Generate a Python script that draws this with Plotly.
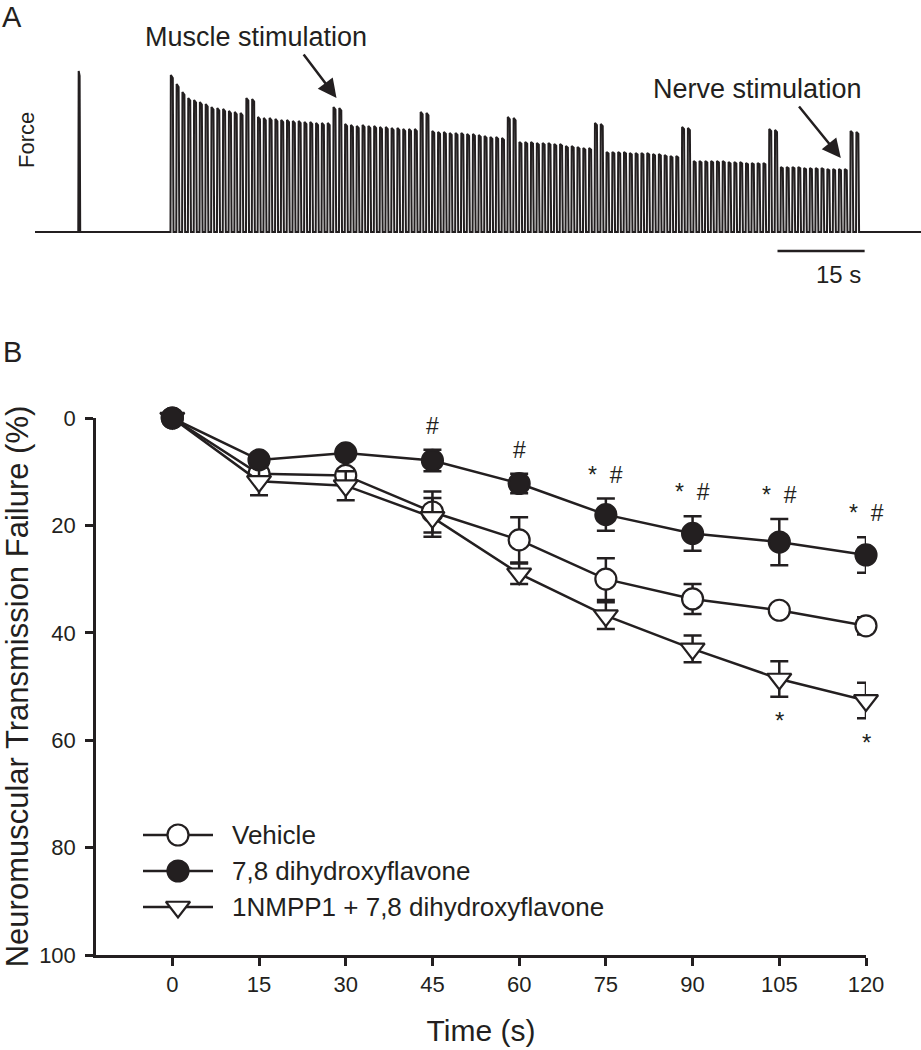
import plotly.graph_objects as go

W, H = 921, 1050
INK = "#231f20"
FONT = "Liberation Sans, Arial, Helvetica, sans-serif"

# ---------------- Panel B data ----------------
time_s = [0, 15, 30, 45, 60, 75, 90, 105, 120]
vehicle_mean = [0, 10.4, 10.7, 17.5, 22.7, 30.0, 33.7, 35.8, 38.7]
vehicle_sem = [0.4, 1.0, 1.2, 3.8, 4.2, 3.9, 2.8, 1.0, 1.6]
dhf_mean = [0, 7.8, 6.5, 7.9, 12.2, 18.0, 21.5, 23.1, 25.5]
dhf_sem = [0.4, 1.0, 1.0, 2.0, 1.8, 3.0, 3.2, 4.3, 3.3]
nmpp_mean = [0, 11.8, 12.6, 18.5, 29.0, 36.8, 43.0, 48.6, 52.6]
nmpp_sem = [0.4, 2.6, 2.7, 3.6, 1.9, 2.5, 2.5, 3.3, 3.3]
series_names = ["Vehicle", "7,8 dihydroxyflavone", "1NMPP1 + 7,8 dihydroxyflavone"]
hash_times = [45, 60, 75, 90, 105, 120]          # '#' above 7,8-DHF
star_dhf_times = [75, 90, 105, 120]              # '*' above 7,8-DHF
star_nmpp_times = [105, 120]                     # '*' below 1NMPP1
x_ticks = [0, 15, 30, 45, 60, 75, 90, 105, 120]
y_ticks = [0, 20, 40, 60, 80, 100]

# ---------------- Panel A data (force trace, arbitrary units) ----------------
twitch_time = -16.0
twitch_amp = 161
nerve_amp_segments = [
    [157, 148, 140, 134, 132, 130, 128, 125, 124, 123, 121, 120, 119],
    [115, 114, 114, 113, 112, 112, 111, 111, 110, 110, 109, 109, 109],
    [108, 107, 106, 107, 106, 106, 105, 105, 104, 104, 103, 103, 103],
    [101, 100, 100, 99, 99, 99, 98, 98, 97, 96, 95, 95, 94],
    [90, 90, 90, 89, 89, 89, 88, 88, 86, 86, 85, 84, 84],
    [80, 80, 80, 80, 79, 79, 79, 79, 78, 78, 77, 76, 76],
    [71, 71, 71, 71, 71, 71, 70, 70, 70, 69, 69, 69, 69],
    [65, 65, 65, 65, 64, 64, 64, 64, 63, 63, 63, 63],
]
muscle_amp_pairs = [
    [134, 133], [125, 124], [120, 119], [115, 114],
    [109, 108], [105, 104], [103, 102], [101, 100],
]
scale_bar_s = 15

# ---------------- geometry helpers ----------------
def px(x):
    return x / W

def py(y):
    return 1 - y / H

A_T0, A_T1 = -23.6, 128.9
A_Y0, A_Y1 = -58, 192

fig = go.Figure()

# ---- Panel A trace ----
amps = []
for seg, pair in zip(nerve_amp_segments, muscle_amp_pairs):
    amps += seg + pair
xs = [A_T0, twitch_time - 0.15, twitch_time - 0.08, twitch_time + 0.08, twitch_time + 0.18, -0.3]
ys = [0, 0, twitch_amp, twitch_amp * 0.97, 0, 0]
for i, a in enumerate(amps):
    t = float(i)
    xs += [t - 0.28, t - 0.22, t + 0.12, t + 0.24, t + 0.7]
    ys += [0, a, a * 0.98, 0, 0]
xs += [A_T1]
ys += [0]
fig.add_trace(go.Scatter(x=xs, y=ys, mode="lines", line=dict(color=INK, width=2.0),
                         xaxis="x2", yaxis="y2", showlegend=False, hoverinfo="skip"))

# ---- Panel B traces ----
styles = [
    dict(symbol="circle", color="white"),
    dict(symbol="triangle-down", color="white"),
    dict(symbol="circle", color=INK),
]
order = [(vehicle_mean, vehicle_sem, 0, styles[0]),
         (nmpp_mean, nmpp_sem, 2, styles[1]),
         (dhf_mean, dhf_sem, 1, styles[2])]
for mean, sem, ni, st in order:
    fig.add_trace(go.Scatter(
        x=time_s, y=mean, name=series_names[ni], mode="lines+markers",
        line=dict(color=INK, width=2.5),
        marker=dict(symbol=st["symbol"], size=21, color=st["color"],
                    line=dict(color=INK, width=2.2)),
        error_y=dict(type="data", array=sem, visible=True, color=INK, thickness=2.5, width=9),
        cliponaxis=False, showlegend=False, xaxis="x", yaxis="y"))

# ---- custom legend (overlay pixel-space axes) ----
legend_rows = [835, 871, 907]
legend_styles = [styles[0], styles[2], styles[1]]
for name, ry, st in zip(series_names, legend_rows, legend_styles):
    fig.add_trace(go.Scatter(x=[143, 213], y=[ry, ry], mode="lines", line=dict(color=INK, width=2.5),
                             xaxis="x3", yaxis="y3", showlegend=False, hoverinfo="skip"))
    fig.add_trace(go.Scatter(x=[178], y=[ry], mode="markers",
                             marker=dict(symbol=st["symbol"], size=21, color=st["color"],
                                         line=dict(color=INK, width=2.2)),
                             xaxis="x3", yaxis="y3", showlegend=False, hoverinfo="skip"))

annotations = []
for name, ry in zip(series_names, legend_rows):
    annotations.append(dict(x=px(230), y=py(ry), xref="paper", yref="paper", text=name,
                            showarrow=False, xanchor="left", yanchor="middle",
                            font=dict(size=26, color=INK, family=FONT)))

# significance marks
for t in hash_times:
    i = time_s.index(t)
    txt = "* &nbsp;#" if t in star_dhf_times else "#"
    annotations.append(dict(x=t, y=dhf_mean[i] - dhf_sem[i], xref="x", yref="y", text=txt,
                            showarrow=False, xanchor="center", yanchor="middle", yshift=24,
                            font=dict(size=23, color=INK, family=FONT)))
for t in star_nmpp_times:
    i = time_s.index(t)
    annotations.append(dict(x=t, y=nmpp_mean[i] + nmpp_sem[i], xref="x", yref="y", text="*",
                            showarrow=False, xanchor="center", yanchor="middle", yshift=-24,
                            font=dict(size=24, color=INK, family=FONT)))

# panel labels
annotations.append(dict(x=px(12), y=py(17), xref="paper", yref="paper", text="A", showarrow=False,
                        xanchor="center", yanchor="middle", font=dict(size=29, color=INK, family=FONT)))
annotations.append(dict(x=px(12), y=py(352), xref="paper", yref="paper", text="B", showarrow=False,
                        xanchor="center", yanchor="middle", font=dict(size=29, color=INK, family=FONT)))

# panel A labels and arrows
annotations.append(dict(x=px(27), y=py(140), xref="paper", yref="paper", text="Force", showarrow=False,
                        xanchor="center", yanchor="middle", textangle=-90,
                        font=dict(size=22, color=INK, family=FONT)))
annotations.append(dict(x=px(256), y=py(37), xref="paper", yref="paper", text="Muscle stimulation",
                        showarrow=False, xanchor="center", yanchor="middle",
                        font=dict(size=27, color=INK, family=FONT)))
annotations.append(dict(x=px(757), y=py(89), xref="paper", yref="paper", text="Nerve stimulation",
                        showarrow=False, xanchor="center", yanchor="middle",
                        font=dict(size=27, color=INK, family=FONT)))
annotations.append(dict(x=28.3, y=134, xref="x2", yref="y2", text="", showarrow=True,
                        ax=-34, ay=-45, arrowhead=2, arrowsize=1.5, arrowwidth=2.5, arrowcolor=INK,
                        standoff=0))
annotations.append(dict(x=115.1, y=74, xref="x2", yref="y2", text="", showarrow=True,
                        ax=-43, ay=-53, arrowhead=2, arrowsize=1.5, arrowwidth=2.5, arrowcolor=INK,
                        standoff=0))
bar_end = 119.2
annotations.append(dict(x=bar_end - scale_bar_s / 2 + 3.0, y=-42, xref="x2", yref="y2",
                        text=f"{scale_bar_s} s", showarrow=False, xanchor="center", yanchor="middle",
                        font=dict(size=24, color=INK, family=FONT)))

shapes = [dict(type="line", xref="x2", yref="y2", x0=bar_end - scale_bar_s, x1=bar_end, y0=-19, y1=-19,
               line=dict(color=INK, width=2.5))]

axis_common = dict(showline=True, linecolor=INK, linewidth=2.5, ticks="outside", ticklen=8,
                   tickwidth=2.5, tickcolor=INK, showgrid=False, zeroline=False,
                   tickfont=dict(size=22, color=INK, family=FONT), automargin=False)

fig.update_layout(
    width=W, height=H,
    margin=dict(l=0, r=0, t=0, b=0),
    paper_bgcolor="white", plot_bgcolor="rgba(0,0,0,0)",
    font=dict(family=FONT, color=INK),
    showlegend=False,
    xaxis=dict(domain=[px(96), px(866)], range=[-13.2, 120], tickvals=x_ticks, anchor="y",
               title=dict(text="Time (s)", font=dict(size=30, color=INK, family=FONT), standoff=24),
               **axis_common),
    yaxis=dict(domain=[py(955), py(418)], range=[100, 0], tickvals=y_ticks, anchor="x",
               ticklabelstandoff=5,
               title=dict(text="Neuromuscular Transmission Failure (%)",
                          font=dict(size=31, color=INK, family=FONT), standoff=4),
               **axis_common),
    xaxis2=dict(domain=[px(35), 1], range=[A_T0, A_T1], visible=False, anchor="y2"),
    yaxis2=dict(domain=[py(290), py(40)], range=[A_Y0, A_Y1], visible=False, anchor="x2"),
    xaxis3=dict(domain=[0, 1], range=[0, W], visible=False, anchor="y3"),
    yaxis3=dict(domain=[0, 1], range=[H, 0], visible=False, anchor="x3"),
    annotations=annotations,
    shapes=shapes,
)

fig.write_html("out.html", config={"displayModeBar": False},
               post_script="document.body.style.margin='0';document.body.style.overflow='hidden';")
